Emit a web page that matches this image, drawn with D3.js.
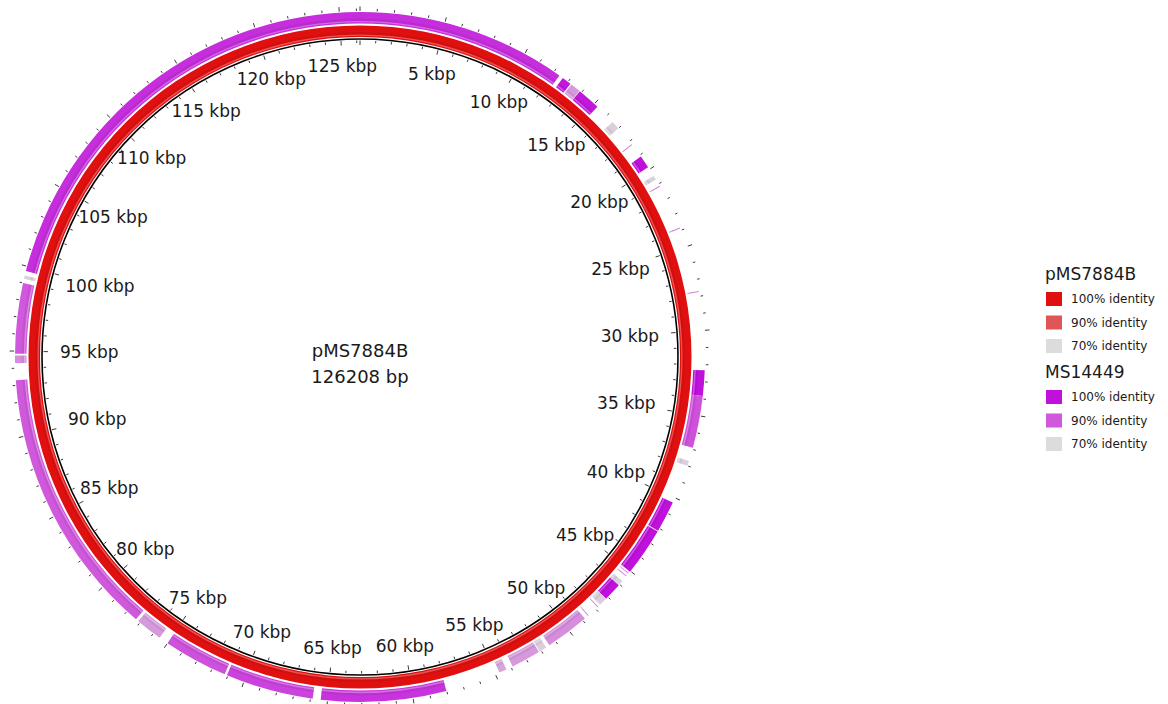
<!DOCTYPE html>
<html>
<head>
<meta charset="utf-8">
<script src="https://cdn.jsdelivr.net/npm/d3@7"></script>
<style>
  body { margin: 0; background: #fff; }
  svg { display: block; }
  text { font-family: "DejaVu Sans", Verdana, sans-serif; fill: #1a1a1a; }
</style>
</head>
<body>
<svg id="chart" width="1168" height="704"></svg>
<script>
// Reference plasmid and comparison genome
const referenceName = "pMS7884B";
const referenceLength = 126208;
const queryName = "MS14449";

// Identity legend levels and colours for each ring
const identityLevels = [100, 90, 70];
const referenceColors = ["#e01010", "#e05656", "#dcdcdc"];
const queryColors = ["#c010dc", "#d058dc", "#dcdcdc"];

// Reference ring: the plasmid against itself
const referenceHits = [[0, 126208, 100]];

// BLAST hits of MS14449 against pMS7884B: [start bp, end bp, % identity]
const queryHits = [
  [0, 12380, 96],
  [12620, 13180, 99],
  [13250, 13850, 80],
  [13880, 15250, 99],
  [16500, 17000, 72],
  [18200, 18260, 84],
  [19100, 19850, 100],
  [20450, 20700, 72],
  [21120, 21180, 84],
  [23820, 23880, 84],
  [27680, 27740, 84],
  [32330, 33830, 100],
  [33830, 36900, 91],
  [37700, 38000, 72],
  [40300, 42150, 100],
  [42200, 45050, 100],
  [45150, 45200, 84],
  [45350, 45400, 84],
  [45750, 46050, 72],
  [46070, 47150, 100],
  [47150, 47650, 72],
  [47800, 47850, 84],
  [48550, 48600, 84],
  [48840, 51430, 82],
  [51650, 52100, 72],
  [52150, 53900, 80],
  [54300, 54750, 78],
  [58020, 65400, 95],
  [65870, 71060, 93],
  [71200, 75000, 91],
  [75550, 77130, 80],
  [77300, 93300, 90],
  [94300, 94750, 82],
  [94850, 99000, 90],
  [99250, 99450, 72],
  [99710, 126208, 96]
];

// Position labels around the backbone
const tickValues = [5000, 10000, 15000, 20000, 25000, 30000, 35000, 40000, 45000, 50000,
  55000, 60000, 65000, 70000, 75000, 80000, 85000, 90000, 95000, 100000,
  105000, 110000, 115000, 120000, 125000];
const tickLabels = ["5 kbp", "10 kbp", "15 kbp", "20 kbp", "25 kbp", "30 kbp", "35 kbp",
  "40 kbp", "45 kbp", "50 kbp", "55 kbp", "60 kbp", "65 kbp", "70 kbp", "75 kbp",
  "80 kbp", "85 kbp", "90 kbp", "95 kbp", "100 kbp", "105 kbp", "110 kbp",
  "115 kbp", "120 kbp", "125 kbp"];

const svg = d3.select("#chart");
const cx = 360, cy = 357;
const g = svg.append("g").attr("transform", `translate(${cx},${cy})`);

const angle = d3.scaleLinear().domain([0, referenceLength]).range([0, 2 * Math.PI]);
const refColor = d3.scaleLinear().domain([70, 90, 100])
  .range([referenceColors[2], referenceColors[1], referenceColors[0]]);
const qColor = d3.scaleLinear().domain([70, 90, 100])
  .range([queryColors[2], queryColors[1], queryColors[0]]);

// Backbone circle
const backboneR = 318;
g.append("circle").attr("r", backboneR).attr("fill", "none")
  .attr("stroke", "#000").attr("stroke-width", 1.6);

// Draws one ring of hits with a light line near the inner edge and a soft outer shade
function drawRing(hits, inner, outer, color) {
  const ring = g.append("g");
  const arc = d3.arc().innerRadius(inner).outerRadius(outer);
  ring.selectAll("path.hit").data(hits).join("path")
    .attr("class", "hit")
    .attr("d", d => arc({ startAngle: angle(d[0]), endAngle: angle(d[1]) }))
    .attr("fill", d => color(d[2]));
  const light = d3.arc().innerRadius(inner + 1.2).outerRadius(inner + 2.6);
  ring.selectAll("path.light").data(hits).join("path")
    .attr("class", "light")
    .attr("d", d => light({ startAngle: angle(d[0]), endAngle: angle(d[1]) }))
    .attr("fill", "#fff").attr("opacity", 0.28);
  const shade = d3.arc().innerRadius(inner + 2.6).outerRadius(inner + 5);
  ring.selectAll("path.shade").data(hits).join("path")
    .attr("class", "shade")
    .attr("d", d => shade({ startAngle: angle(d[0]), endAngle: angle(d[1]) }))
    .attr("fill", "#000").attr("opacity", 0.06);
}

drawRing(referenceHits, 320, 331.5, refColor);
drawRing(queryHits, 333.5, 345, qColor);

// Tick marks every kbp, inside the backbone and outside the outer ring
const ticks = d3.range(0, referenceLength, 1000);
const tickG = g.append("g").attr("stroke", "#3a3a3a").attr("stroke-width", 1);
function radial(v, r0, r1) {
  const a = angle(v);
  return { x1: r0 * Math.sin(a), y1: -r0 * Math.cos(a), x2: r1 * Math.sin(a), y2: -r1 * Math.cos(a) };
}
tickG.selectAll("line.out").data(ticks).join("line").attr("class", "out")
  .each(function (d) {
    const p = radial(d, 346, d % 5000 === 0 ? 350.5 : 348.5);
    d3.select(this).attr("x1", p.x1).attr("y1", p.y1).attr("x2", p.x2).attr("y2", p.y2);
  });
tickG.selectAll("line.in").data(ticks).join("line").attr("class", "in")
  .each(function (d) {
    const p = radial(d, 316.5, d % 5000 === 0 ? 312 : 314);
    d3.select(this).attr("x1", p.x1).attr("y1", p.y1).attr("x2", p.x2).attr("y2", p.y2);
  });

// Position labels: each box is pushed inward until its edge meets the label radius
const labelR = 300, halfH = 8;
g.append("g").selectAll("text").data(tickValues).join("text")
  .attr("text-anchor", "middle")
  .attr("dy", "0.36em")
  .attr("font-size", 17)
  .text((d, i) => tickLabels[i])
  .each(function (d) {
    const a = angle(d);
    const w = this.getComputedTextLength();
    const s = Math.abs(Math.sin(a)), c = Math.abs(Math.cos(a));
    const t = Math.min(s > 1e-6 ? (w / 2) / s : Infinity, c > 1e-6 ? halfH / c : Infinity);
    const r = labelR - t;
    d3.select(this).attr("x", r * Math.sin(a)).attr("y", -r * Math.cos(a));
  });

// Centre title
g.append("text").attr("text-anchor", "middle").attr("y", 0).attr("font-size", 18)
  .text(referenceName);
g.append("text").attr("text-anchor", "middle").attr("y", 26).attr("font-size", 18)
  .text(`${referenceLength} bp`);

// Legend
const legend = svg.append("g").attr("transform", "translate(1045,0)");
const legendGroups = [
  { name: referenceName, colors: referenceColors, y: 280 },
  { name: queryName, colors: queryColors, y: 378 }
];
legendGroups.forEach(grp => {
  legend.append("text").attr("x", 0).attr("y", grp.y).attr("font-size", 17).text(grp.name);
  identityLevels.forEach((lvl, i) => {
    const yc = grp.y + 19 + i * 23.5;
    legend.append("rect").attr("x", 1).attr("y", yc - 7).attr("width", 16).attr("height", 14)
      .attr("fill", grp.colors[i]);
    legend.append("text").attr("x", 26).attr("y", yc + 4.3).attr("font-size", 12)
      .attr("fill", "#333").text(`${lvl}% identity`);
  });
});
</script>
</body>
</html>
